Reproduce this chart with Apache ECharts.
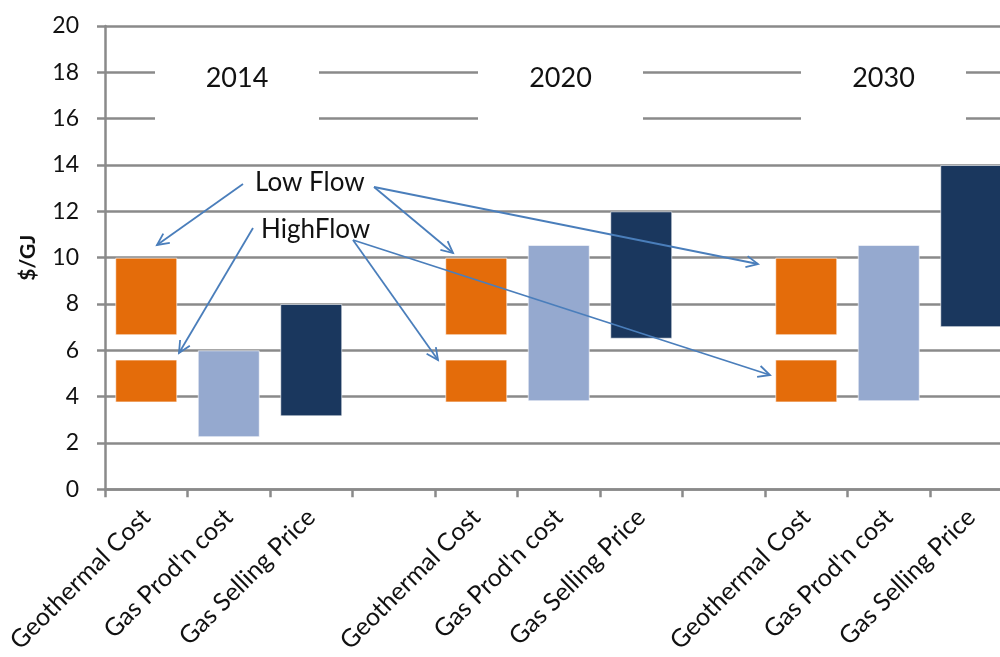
<!DOCTYPE html>
<html>
<head>
<meta charset="utf-8">
<style>
  html, body { margin: 0; padding: 0; background: #fff; }
  #main { width: 1000px; height: 657px; }
</style>
<script src="https://cdn.jsdelivr.net/npm/echarts@6/dist/echarts.min.js"></script>
</head>
<body>
<div id="main"></div>
<script>
// categories (blank ones separate the years)
const categories = [
  'Geothermal Cost', "Gas Prod'n cost", 'Gas Selling Price', '',
  'Geothermal Cost', "Gas Prod'n cost", 'Gas Selling Price', '',
  'Geothermal Cost', "Gas Prod'n cost", 'Gas Selling Price'
];
const years = ['2014', '2020', '2030'];
const yTicks = [0, 2, 4, 6, 8, 10, 12, 14, 16, 18, 20];

// ranges [low, high] in $/GJ, one per year
const geoHighFlow = [[3.75, 5.6], [3.75, 5.6], [3.75, 5.6]];
const geoLowFlow = [[6.65, 10], [6.65, 10], [6.65, 10]];
const gasProd = [[2.25, 6.0], [3.8, 10.55], [3.8, 10.55]];
const gasSell = [[3.15, 8.0], [6.5, 12.0], [7.0, 14.0]];

const ORANGE = '#E46C0A';
const LIGHTBLUE = '#95A9CF';
const NAVY = '#1A375E';
const GRID = '#8A8A8A';
const ARROW = '#4A7EBB';
const FONT = 'Lato';

// build stacked series: base (hidden), first range, gap (hidden), second range
const base = [], seg1 = [], gap = [], seg2 = [];
for (let i = 0; i < categories.length; i++) {
  base.push('-'); seg1.push('-'); gap.push('-'); seg2.push('-');
}
for (let y = 0; y < years.length; y++) {
  const g = y * 4, p = y * 4 + 1, s = y * 4 + 2;
  base[g] = geoHighFlow[y][0];
  seg1[g] = { value: geoHighFlow[y][1] - geoHighFlow[y][0], itemStyle: { color: ORANGE } };
  gap[g] = geoLowFlow[y][0] - geoHighFlow[y][1];
  seg2[g] = { value: geoLowFlow[y][1] - geoLowFlow[y][0], itemStyle: { color: ORANGE } };

  base[p] = gasProd[y][0];
  seg1[p] = { value: gasProd[y][1] - gasProd[y][0], itemStyle: { color: LIGHTBLUE } };

  base[s] = gasSell[y][0];
  seg1[s] = { value: gasSell[y][1] - gasSell[y][0], itemStyle: { color: NAVY } };
}

const hidden = { color: 'transparent', borderWidth: 0 };
const shown = { borderColor: 'rgba(255,255,255,0.6)', borderWidth: 1 };

function barSeries(name, data, style) {
  return {
    name: name,
    type: 'bar',
    stack: 'r',
    data: data,
    barWidth: 62,
    itemStyle: style,
    emphasis: { disabled: true },
    silent: true
  };
}

// year labels sit on white boxes that cut the 16/18 gridlines
const yearBoxes = [[155, 319], [478, 643], [801, 966]];
const graphics = [];
yearBoxes.forEach(function (b, i) {
  graphics.push({
    type: 'rect', z: 100,
    shape: { x: b[0], y: 58, width: b[1] - b[0], height: 74 },
    style: { fill: '#fff' }
  });
  graphics.push({
    type: 'text', z: 101,
    x: (b[0] + b[1]) / 2, y: 78,
    style: { text: years[i], font: '27px ' + FONT, fill: '#111', align: 'center', verticalAlign: 'middle' }
  });
});

// annotation arrows [x1, y1, x2, y2] (tip at x2,y2)
const arrows = [
  [243, 184, 157, 245], [374, 187, 453, 253], [374, 187, 758, 264],
  [253, 228, 179, 353], [353, 240, 438, 360], [353, 240, 770, 375]
];
arrows.forEach(function (a) {
  const ang = Math.atan2(a[3] - a[1], a[2] - a[0]);
  const L = 13, spread = 0.45;
  graphics.push({
    type: 'line', z: 102,
    shape: { x1: a[0], y1: a[1], x2: a[2], y2: a[3] },
    style: { stroke: ARROW, lineWidth: 1.8 }
  });
  graphics.push({
    type: 'polyline', z: 102,
    shape: { points: [
      [a[2] - L * Math.cos(ang - spread), a[3] - L * Math.sin(ang - spread)],
      [a[2], a[3]],
      [a[2] - L * Math.cos(ang + spread), a[3] - L * Math.sin(ang + spread)]
    ] },
    style: { stroke: ARROW, lineWidth: 1.8, fill: null }
  });
});
graphics.push({
  type: 'text', z: 103, x: 255, y: 183,
  style: { text: 'Low Flow', font: '26px ' + FONT, fill: '#111', verticalAlign: 'middle' }
});
graphics.push({
  type: 'text', z: 103, x: 261, y: 230,
  style: { text: 'HighFlow', font: '26px ' + FONT, fill: '#111', verticalAlign: 'middle' }
});

const chart = echarts.init(document.getElementById('main'), null, { renderer: 'canvas' });
chart.setOption({
  animation: false,
  backgroundColor: '#fff',
  grid: {
    left: 105, right: -12.5, top: 26, bottom: 167.7,
    containLabel: false, outerBoundsMode: 'none'
  },
  xAxis: {
    type: 'category',
    data: categories,
    axisLine: { lineStyle: { color: GRID, width: 2.5 } },
    axisTick: { show: true, length: 8, lineStyle: { color: GRID, width: 2.5 }, alignWithLabel: false },
    axisLabel: {
      interval: 0, rotate: 45, margin: 24,
      fontFamily: FONT, fontSize: 25, color: '#111'
    },
    splitLine: { show: false }
  },
  yAxis: {
    type: 'value',
    min: yTicks[0], max: yTicks[yTicks.length - 1], interval: 2,
    name: '$/GJ',
    nameLocation: 'middle',
    nameGap: 66,
    nameRotate: 90,
    nameTextStyle: { fontFamily: FONT, fontSize: 21, fontWeight: 'bold', color: '#111' },
    axisLine: { show: true, lineStyle: { color: GRID, width: 2.5 } },
    axisTick: { show: true, length: 8, lineStyle: { color: GRID, width: 2.5 } },
    axisLabel: { margin: 26, fontFamily: FONT, fontSize: 23, color: '#111' },
    splitLine: { show: true, lineStyle: { color: GRID, width: 2.5 } }
  },
  series: [
    barSeries('base', base, hidden),
    barSeries('range1', seg1, shown),
    barSeries('gap', gap, hidden),
    barSeries('range2', seg2, shown)
  ],
  graphic: graphics
});
</script>
</body>
</html>
